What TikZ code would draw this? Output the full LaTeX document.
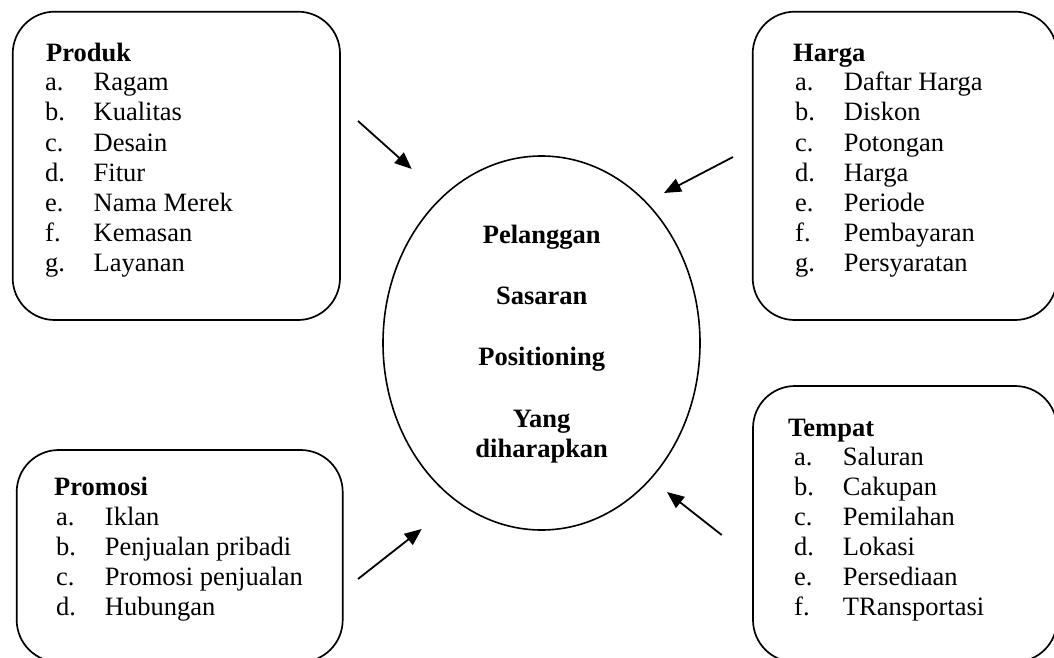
\documentclass[tikz,border=0pt]{standalone}
\usepackage{fontspec}
\setmainfont{Liberation Serif}
\usetikzlibrary{arrows.meta,shapes.geometric}
\begin{document}
\begin{tikzpicture}[x=1pt,y=-1pt,
  box/.style={draw=black,line width=1.7pt,rounded corners=42pt,rectangle,inner sep=0pt},
  txt/.style={anchor=base west,inner sep=0pt,font=\fontsize{26.5}{30}\selectfont},
  head/.style={txt,font=\fontsize{26.5}{30}\selectfont\bfseries},
  ctr/.style={anchor=base,inner sep=0pt,font=\fontsize{26.5}{30}\selectfont\bfseries},
  arr/.style={line width=1.8pt,-{Triangle[length=17pt,width=14pt]}}]
\useasboundingbox (0,0) rectangle (1054,658);
% boxes
\node[box,minimum width=327.3pt,minimum height=308.3pt] (produk) at (176.35,165.85) {};
\node[box,minimum width=304.3pt,minimum height=308.3pt] (harga) at (904.85,165.85) {};
\node[box,minimum width=326pt,minimum height=212pt] (promosi) at (179.7,556) {};
\node[box,minimum width=304pt,minimum height=276pt] (tempat) at (905,524) {};
% ellipse
\node[draw=black,line width=1.6pt,ellipse,minimum width=317pt,minimum height=374pt,inner sep=0pt] (pel) at (541.5,343) {};
\node[ctr] (t1) at (541.7,243) {Pelanggan};
\node[ctr] (t2) at (541.7,304) {Sasaran};
\node[ctr] (t3) at (541.7,365) {Positioning};
\node[ctr] (t4) at (541.7,427) {Yang};
\node[ctr] (t5) at (541.7,457) {diharapkan};
% Produk
\node[head] (ph) at (46,61.7) {Produk};
\foreach \l/\t [count=\i] in {a./Ragam,b./Kualitas,c./Desain,d./Fitur,e./Nama Merek,f./Kemasan,g./Layanan}
  \node[txt] (p\i) at (45,{91+30*(\i-1)}) {\makebox[48.5pt][l]{\l}\t};
% Harga
\node[head] (hh) at (793,62) {Harga};
\foreach \l/\t [count=\i] in {a./Daftar Harga,b./Diskon,c./Potongan,d./Harga,e./Periode,f./Pembayaran,g./Persyaratan}
  \node[txt] (h\i) at (795,{91+30*(\i-1)}) {\makebox[48.8pt][l]{\l}\t};
% Promosi
\node[head] (mh) at (54,495) {Promosi};
\foreach \l/\t [count=\i] in {a./Iklan,b./Penjualan pribadi,c./Promosi penjualan,d./Hubungan}
  \node[txt] (m\i) at (56,{525+30*(\i-1)}) {\makebox[48.8pt][l]{\l}\t};
% Tempat
\node[head] (th) at (788,436) {Tempat};
\foreach \l/\t [count=\i] in {a./Saluran,b./Cakupan,c./Pemilahan,d./Lokasi,e./Persediaan,f./TRansportasi}
  \node[txt] (e\i) at (794,{465+30*(\i-1)}) {\makebox[48.7pt][l]{\l}\t};
% arrows
\coordinate (a1s) at (358,121); \coordinate (a1e) at (411.7,169);
\coordinate (a2s) at (733,157); \coordinate (a2e) at (664,193);
\coordinate (a3s) at (358,579); \coordinate (a3e) at (421.7,529);
\coordinate (a4s) at (721.7,535); \coordinate (a4e) at (667,492);
\draw[arr] (a1s) -- (a1e);
\draw[arr] (a2s) -- (a2e);
\draw[arr] (a3s) -- (a3e);
\draw[arr] (a4s) -- (a4e);
\end{tikzpicture}
\end{document}
